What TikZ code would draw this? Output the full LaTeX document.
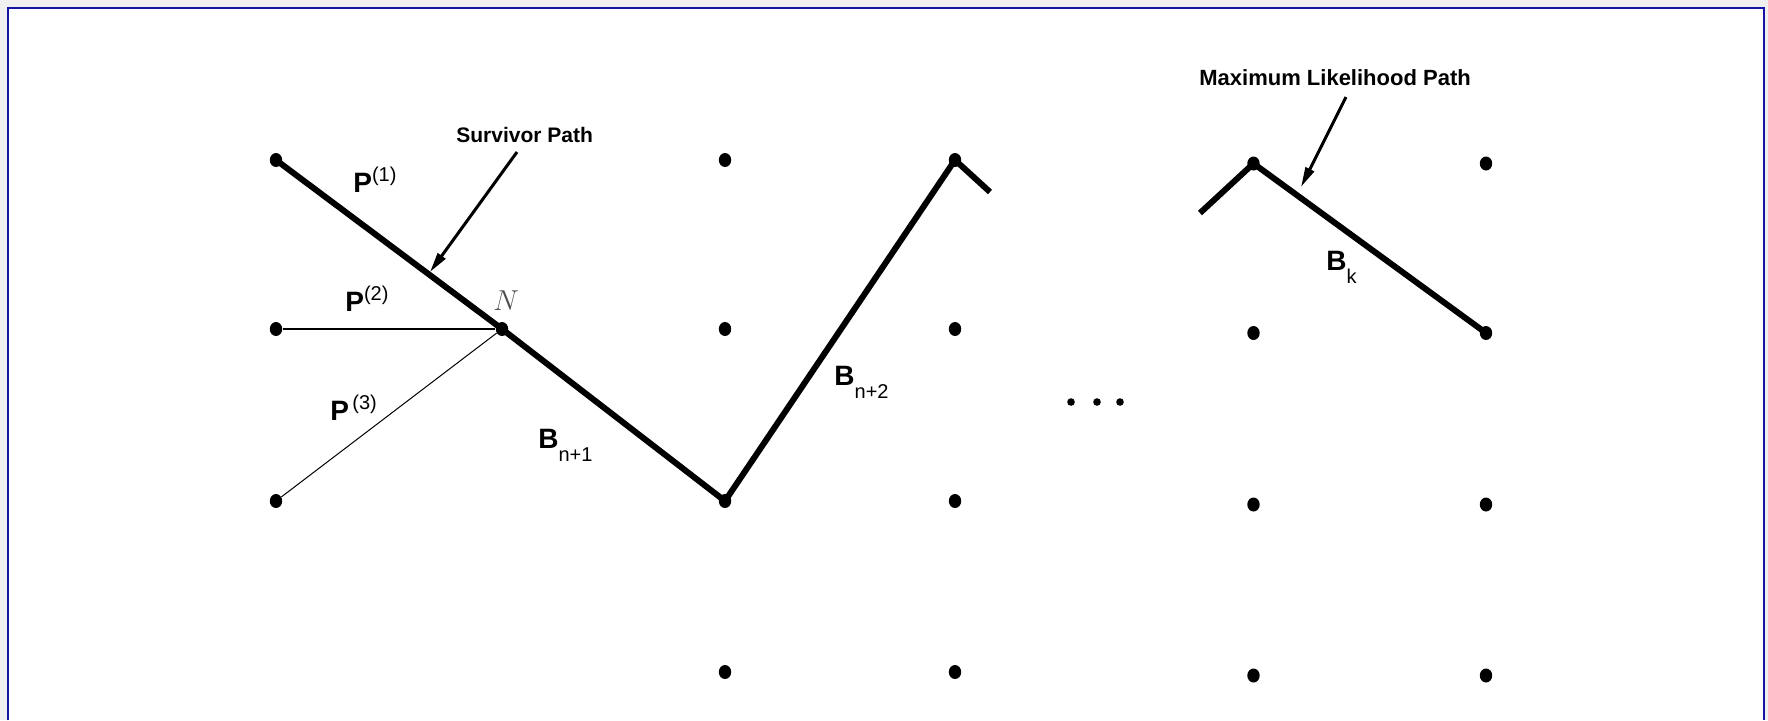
\documentclass[tikz,border=0pt]{standalone}
\usepackage{fontspec}
\newfontfamily\lsans{Liberation Sans}
\usepackage{xcolor}
\usepackage{tikz}
\usetikzlibrary{arrows.meta,shapes.geometric}
\definecolor{framebl}{RGB}{20,20,165}
\definecolor{ngray}{RGB}{80,80,80}
\newcommand\lblsup[2]{{\fontsize{14}{14}\selectfont\bfseries #1}\raisebox{5.2pt}{\fontsize{10}{10}\selectfont #2}}
\newcommand\lblsub[2]{{\fontsize{14}{14}\selectfont\bfseries #1}\raisebox{-6.5pt}{\fontsize{10}{10}\selectfont #2}}

\begin{document}
\begin{tikzpicture}[x=0.5pt,y=-0.5pt,>={Triangle[length=10pt,width=4.6pt]},
  n/.style={ellipse,fill,inner sep=0pt,minimum width=6.2pt,minimum height=7pt},
  sm/.style={circle,fill,inner sep=0pt,minimum size=3.8pt},
  lbl/.style={font=\lsans,inner sep=0pt,anchor=base west},
  surv/.style={line width=3pt},
  ptr/.style={->,line width=1.5pt}]
  \useasboundingbox (0,0) rectangle (1768,720);
  \fill[gray!12] (0,0) rectangle (1768,720);
  \fill[white] (8,8) rectangle (1764,720);
  \draw[framebl,line width=1.2pt] (8,720)--(8,8)--(1764,8)--(1764,720);
  % trellis states
  \node[n](a1)at(276,160){};\node[n](a2)at(276,329){};\node[n](a3)at(276,501){};
  \node[n](N)at(502,329){};
  \node[n](b1)at(725,160){};\node[n](b2)at(725,329){};\node[n](b3)at(725,501){};\node[n](b4)at(725,672){};
  \node[n](c1)at(955,160){};\node[n](c2)at(955,329){};\node[n](c3)at(955,501){};\node[n](c4)at(955,672){};
  \node[n](d1)at(1253.5,163.5){};\node[n](d2)at(1253.5,333){};\node[n](d3)at(1253.5,504.5){};\node[n](d4)at(1253.5,675.5){};
  \node[n](e1)at(1486,163.5){};\node[n](e2)at(1486,333){};\node[n](e3)at(1486,504.5){};\node[n](e4)at(1486,675.5){};
  \node[sm](m1)at(1071,402){};\node[sm](m2)at(1097,402){};\node[sm](m3)at(1120,402){};
  % paths
  \coordinate(c1s)at(990,192);\coordinate(d1s)at(1200,213);
  \draw[surv](a1.center)--(N.center)--(b3.center)--(c1.center)--(c1s);
  \draw[surv](d1s)--(d1.center)--(e2.center);
  \draw[line width=0.8pt](a2)--(N);\draw[line width=0.5pt](a3)--(N);
  % labels
  \node[lbl](p1)at(353,192){\lblsup{P}{(1)}};
  \node[lbl](p2)at(345,311){\lblsup{P}{(2)}};
  \node[lbl](p3)at(330,420){\lblsup{P}{\,(3)}};
  \node[lbl,text=ngray](nl)at(493,310){\fontsize{14.6}{16}\selectfont$N$};
  \node[lbl](bn1)at(538,448){\lblsub{B}{n+1}};
  \node[lbl](bn2)at(834,385){\lblsub{B}{n+2}};
  \node[lbl](bk)at(1326,270){\lblsub{B}{k}};
  \node[lbl](sp)at(456,142){\fontsize{10.5}{12}\selectfont\bfseries Survivor Path};
  \node[lbl](ml)at(1199,85){\fontsize{11}{12}\selectfont\bfseries Maximum Likelihood Path};
  \coordinate(sps)at(517,152);\coordinate(spt)at(430,272);
  \coordinate(mls)at(1346,97);\coordinate(mlt)at(1301,187);
  \draw[ptr](sps)--(spt);\draw[ptr](mls)--(mlt);
\end{tikzpicture}
\end{document}
